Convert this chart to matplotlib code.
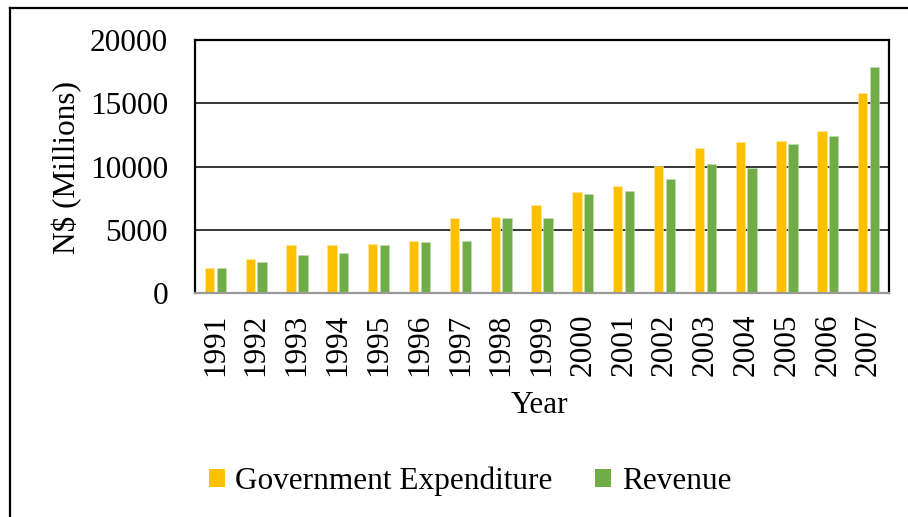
import numpy as np
import matplotlib.pyplot as plt
from matplotlib.lines import Line2D
from matplotlib.patches import Patch

years = ['1991', '1992', '1993', '1994', '1995', '1996', '1997', '1998', '1999',
         '2000', '2001', '2002', '2003', '2004', '2005', '2006', '2007']
expenditure = [2000, 2650, 3800, 3800, 3900, 4100, 5900, 6000, 6950,
               7950, 8450, 10050, 11450, 11950, 12050, 12800, 15800]
revenue = [2000, 2450, 3000, 3200, 3800, 4000, 4100, 5900, 5950,
           7800, 8100, 9000, 10200, 9900, 11750, 12450, 17900]

plt.rcParams['font.family'] = ['Liberation Serif', 'DejaVu Serif']
fs = 22.5

fig = plt.figure(figsize=(9.08, 5.17), dpi=100)
ax = fig.add_axes([195 / 908, 1 - 293 / 517, 694 / 908, 253 / 517])

x = np.arange(len(years))
w = 0.23
ax.bar(x - 0.145, expenditure, w, color='#FFC000', edgecolor='#FFE9A0', linewidth=0.4, zorder=3)
ax.bar(x + 0.145, revenue, w, color='#70AD47', edgecolor='#C5DFB5', linewidth=0.4, zorder=3)

ax.set_xlim(-0.5, len(years) - 0.5)
ax.set_ylim(0, 20000)
ax.set_yticks([0, 5000, 10000, 15000, 20000])
ax.set_xticks(x)
ax.set_xticklabels(years, rotation=90)
ax.tick_params(axis='y', length=0, pad=19.5, labelsize=fs)
ax.tick_params(axis='x', length=0, pad=15, labelsize=fs)

ax.yaxis.grid(True, color='black', linewidth=1.1, zorder=0)
for s in ['left', 'right', 'top']:
    ax.spines[s].set_linewidth(1.6)
    ax.spines[s].set_color('black')
ax.spines['bottom'].set_color('#9a9a9a')
ax.spines['bottom'].set_linewidth(1.6)
ax.spines['bottom'].set_zorder(4)

ax.set_xlabel('Year', fontsize=fs)
ax.xaxis.set_label_coords(0.497, -0.443)
ax.xaxis.label.set_va('center')
ax.set_ylabel('N$ (Millions)', fontsize=fs)
ax.yaxis.set_label_coords(-0.184, 0.498)
ax.yaxis.label.set_va('center')

handles = [Patch(facecolor='#FFC000', label='Government Expenditure'),
           Patch(facecolor='#70AD47', label='Revenue')]
fig.legend(handles=handles, loc='center', bbox_to_anchor=(470 / 908, 1 - 481 / 517),
           ncol=2, frameon=False, fontsize=fs, handlelength=0.5, handleheight=0.5,
           handletextpad=0.35, columnspacing=1.35, borderaxespad=0)

# outer frame (left and top edges)
fig.add_artist(Line2D([10 / 908, 10 / 908], [0, 1 - 8 / 517], transform=fig.transFigure,
                      color='black', linewidth=1.6))
fig.add_artist(Line2D([10 / 908, 1], [1 - 8 / 517, 1 - 8 / 517], transform=fig.transFigure,
                      color='black', linewidth=1.6))

fig.savefig('out.png', dpi=100)
